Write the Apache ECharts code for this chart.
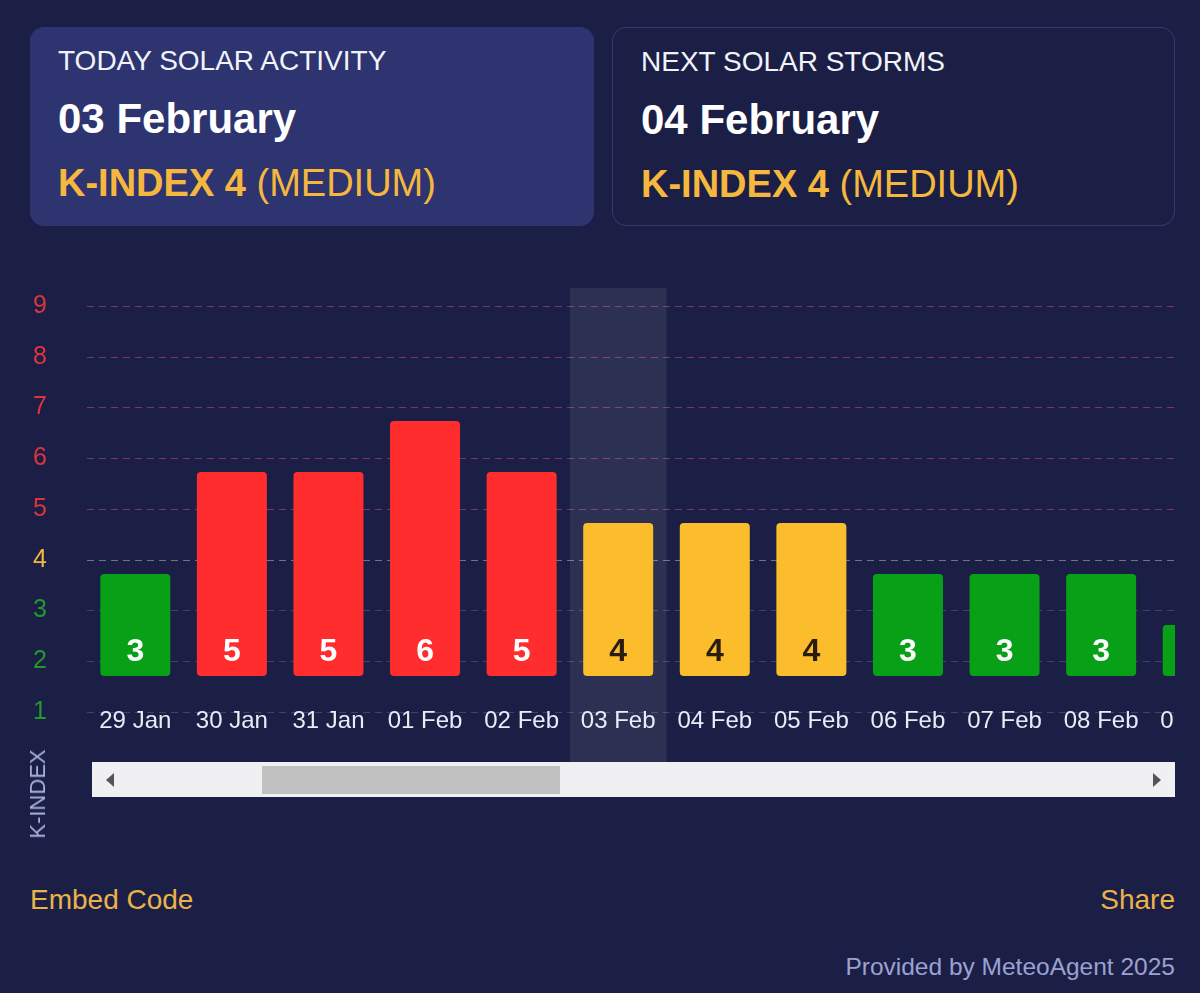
<!DOCTYPE html>
<html>
<head>
<meta charset="utf-8">
<script src="https://cdn.jsdelivr.net/npm/echarts@6/dist/echarts.min.js"></script>
<style>
  html, body { margin: 0; padding: 0; background: #1b1f45; }
  body { width: 1200px; height: 993px; position: relative; overflow: hidden; font-family: "Liberation Sans", Arial, sans-serif; }
  .card { position: absolute; top: 27px; height: 199px; box-sizing: border-box; border-radius: 14px; padding: 17px 0 0 28px; }
  .card.today { left: 30px; width: 564px; background: #2d3470; }
  .card.next { left: 612px; width: 563px; border: 1px solid #353b72; }
  .card .t1 { color: #f2f3fa; font-size: 28px; line-height: 34px; }
  .card .t2 { color: #ffffff; font-size: 42px; font-weight: bold; line-height: 50px; margin-top: 16px; }
  .card .t3 { color: #f5b73e; font-size: 38px; line-height: 44px; margin-top: 17px; }
  .card .t3 b { font-weight: bold; }
  #clip { position: absolute; left: 0; top: 260px; width: 1175px; height: 560px; overflow: hidden; }
  #chart { position: absolute; left: 0; top: 0; width: 1260px; height: 560px; }
  .kname { position: absolute; left: 38px; top: 794px; color: #a9aedb; font-size: 22px; transform: translate(-50%, -50%) rotate(-90deg); white-space: nowrap; }
  .scroll { position: absolute; left: 92px; top: 762px; width: 1083px; height: 35px; background: #f0f0f2; }
  .thumb { position: absolute; left: 170px; top: 4px; width: 298px; height: 28px; background: #c1c1c1; }
  .arrow-l { position: absolute; left: 14px; top: 11px; width: 0; height: 0; border-top: 7px solid transparent; border-bottom: 7px solid transparent; border-right: 8px solid #555; }
  .arrow-r { position: absolute; right: 14px; top: 11px; width: 0; height: 0; border-top: 7px solid transparent; border-bottom: 7px solid transparent; border-left: 8px solid #555; }
  .link { position: absolute; top: 884px; color: #ebb24a; font-size: 28px; }
  .credit { position: absolute; right: 25px; top: 953px; color: #9ca1d3; font-size: 24.5px; }
</style>
</head>
<body>
<div class="card today">
  <div class="t1">TODAY SOLAR ACTIVITY</div>
  <div class="t2">03 February</div>
  <div class="t3"><b>K-INDEX 4</b> (MEDIUM)</div>
</div>
<div class="card next">
  <div class="t1">NEXT SOLAR STORMS</div>
  <div class="t2">04 February</div>
  <div class="t3"><b>K-INDEX 4</b> (MEDIUM)</div>
</div>
<div id="clip"><div id="chart"></div></div>
<div class="kname">K-INDEX</div>
<div class="scroll"><div class="arrow-l"></div><div class="thumb"></div><div class="arrow-r"></div></div>
<div class="link" style="left:30px;">Embed Code</div>
<div class="link" style="right:25px;">Share</div>
<div class="credit">Provided by MeteoAgent 2025</div>
<script>
var days = ['29 Jan', '30 Jan', '31 Jan', '01 Feb', '02 Feb', '03 Feb', '04 Feb', '05 Feb', '06 Feb', '07 Feb', '08 Feb', '09 Feb'];
var kIndex = [3, 5, 5, 6, 5, 4, 4, 4, 3, 3, 3, 2];
var today = '03 Feb';
var yTicks = [1, 2, 3, 4, 5, 6, 7, 8, 9];

function levelColor(v) {
    if (v >= 5) return '#ff2d2d';
    if (v == 4) return '#fbbd2c';
    return '#08a016';
}
function tickColor(v) {
    if (v >= 5) return '#e0333b';
    if (v == 4) return '#f1b83b';
    return '#1f9a2c';
}

var barData = [];
kIndex.forEach(function (v) {
    barData.push({
        value: v,
        itemStyle: {color: levelColor(v)},
        label: {color: v == 4 ? '#2a1d10' : '#ffffff'}
    });
});
var highlight = days.map(function (d) { return d == today ? 1 : null; });

var gridColors = [];
yTicks.forEach(function (v) {
    if (v >= 5) gridColors.push('rgba(225,80,115,0.5)');
    else if (v == 4) gridColors.push('rgba(220,215,205,0.45)');
    else gridColors.push('rgba(190,195,225,0.22)');
});

var myChart = echarts.init(document.getElementById('chart'));
myChart.setOption({
    animation: false,
    textStyle: {fontFamily: 'Liberation Sans, Arial, sans-serif'},
    grid: [
        {left: 87, top: 46, width: 1159, height: 406},
        {left: 87, top: 8, width: 1159, height: 408},
        {left: 87, top: 28, width: 1159, height: 474}
    ],
    xAxis: [
        {gridIndex: 0, type: 'category', data: days, show: false},
        {
            gridIndex: 1, type: 'category', data: days,
            axisLine: {show: false}, axisTick: {show: false},
            axisLabel: {color: '#e9ebf6', fontSize: 24, margin: 33, interval: 0}
        },
        {gridIndex: 2, type: 'category', data: days, show: false}
    ],
    yAxis: [
        {
            gridIndex: 0, type: 'value', min: 1, max: 9, interval: 1,
            axisLine: {show: false}, axisTick: {show: false},
            axisLabel: {
                fontSize: 25, margin: 40,
                color: function (value) { return tickColor(value); }
            },
            splitLine: {show: true, lineStyle: {type: [7, 5], width: 1, color: gridColors}}
        },
        {gridIndex: 1, type: 'value', min: 1, max: 9, show: false, splitLine: {show: false}},
        {gridIndex: 2, type: 'value', min: 0, max: 1, show: false, splitLine: {show: false}}
    ],
    series: [
        {
            name: 'today',
            type: 'bar',
            xAxisIndex: 2, yAxisIndex: 2,
            data: highlight,
            barWidth: '100%',
            itemStyle: {color: 'rgba(255,255,255,0.08)'},
            silent: true,
            z: 1
        },
        {
            name: 'K-INDEX',
            type: 'bar',
            xAxisIndex: 1, yAxisIndex: 1,
            data: barData,
            barWidth: 70,
            itemStyle: {borderRadius: 4},
            label: {
                show: true,
                position: 'insideBottom',
                distance: 8,
                fontSize: 32,
                fontWeight: 'bold'
            },
            z: 3
        }
    ]
});
</script>
</body>
</html>
